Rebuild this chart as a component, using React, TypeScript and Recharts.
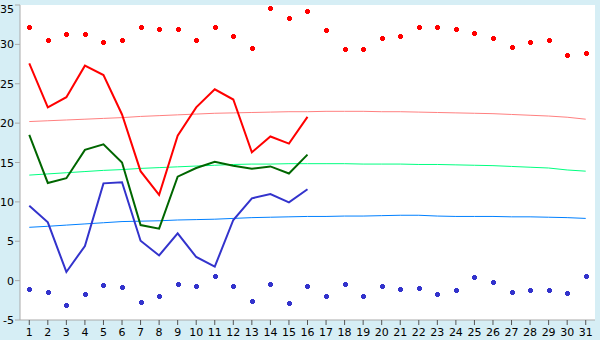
import React from "react";
import { ComposedChart, Line, XAxis, YAxis, CartesianGrid, Customized } from "recharts";

const days = ["1","2","3","4","5","6","7","8","9","10","11","12","13","14","15","16","17","18","19","20","21","22","23","24","25","26","27","28","29","30","31"];

const recordHigh = [32.2,30.6,31.3,31.3,30.3,30.5,32.2,31.9,31.9,30.6,32.2,31.1,29.6,34.6,33.3,34.3,31.8,29.4,29.4,30.8,31.1,32.2,32.2,32.0,31.4,30.8,29.7,30.3,30.5,28.6,28.9];
const highTemp = [27.6,22.0,23.3,27.3,26.1,21.1,13.9,10.9,18.4,22.0,24.3,23.0,16.3,18.3,17.4,20.8];
const normalHigh = [20.2,20.3,20.4,20.5,20.6,20.7,20.85,20.95,21.05,21.15,21.25,21.3,21.35,21.4,21.45,21.45,21.5,21.5,21.5,21.45,21.45,21.4,21.35,21.3,21.25,21.2,21.1,21.0,20.9,20.75,20.5];
const meanTemp = [18.5,12.4,13.0,16.6,17.3,15.0,7.06,6.6,13.2,14.3,15.1,14.6,14.2,14.5,13.6,16.0];
const normalMean = [13.4,13.55,13.7,13.85,14.0,14.1,14.25,14.35,14.45,14.55,14.65,14.75,14.8,14.8,14.85,14.85,14.85,14.85,14.8,14.8,14.8,14.75,14.75,14.7,14.65,14.6,14.5,14.4,14.3,14.05,13.9];
const lowTemp = [9.5,7.4,1.1,4.4,12.35,12.5,5.07,3.2,6.0,3.0,1.77,7.7,10.45,11.0,9.94,11.6];
const normalLow = [6.77,6.9,7.05,7.2,7.35,7.5,7.55,7.6,7.7,7.75,7.8,7.9,8.0,8.05,8.1,8.15,8.15,8.2,8.2,8.25,8.3,8.3,8.2,8.15,8.15,8.15,8.1,8.1,8.05,8.0,7.9];
const recordLow = [-1.1,-1.5,-3.1,-1.7,-0.6,-0.85,-2.75,-2.0,-0.47,-0.72,0.55,-0.72,-2.6,-0.47,-2.9,-0.72,-2.0,-0.47,-2.0,-0.72,-1.1,-0.98,-1.74,-1.23,0.42,-0.22,-1.49,-1.23,-1.23,-1.61,0.55];
const yTicks = [-5,0,5,10,15,20,25,30,35];

const data = days.map((d, i) => ({
  day: d,
  recordHigh: recordHigh[i],
  highTemp: highTemp[i],
  normalHigh: normalHigh[i],
  meanTemp: meanTemp[i],
  normalMean: normalMean[i],
  lowTemp: lowTemp[i],
  normalLow: normalLow[i],
  recordLow: recordLow[i],
}));

const W = 600;
const H = 340;
const MARGIN = { top: 5, right: 5, bottom: 0, left: 0 };
const Y_AXIS_W = 20;
const X_AXIS_H = 20;
const BG = "#d6eef5";

const makeCross = (color: string) => (props: any) => {
  const { cx, cy, index } = props;
  if (cx == null || cy == null || isNaN(cy)) return <g key={index} />;
  const x = Math.round(cx) + 0.5;
  const y = Math.round(cy) + 0.5;
  const d = `M${x - 1.5},${y - 2.5} h3 v1 h1 v3 h-1 v1 h-3 v-1 h-1 v-3 h1 z`;
  return <path key={index} d={d} fill={color} stroke="none" />;
};

const FONT = "DejaVu Sans, Verdana, sans-serif";

const YTick = (props: any) => {
  const { x, y, payload } = props;
  const yy = Math.max(y, 9);
  return (
    <text x={x} y={yy} dy={4} textAnchor="end" fill="#000" fontSize={11} fontFamily={FONT}>
      {payload.value}
    </text>
  );
};

const XTick = (props: any) => {
  const { x, y, payload } = props;
  return (
    <text x={x} y={y} dy={9} textAnchor="middle" fill="#000" fontSize={11} fontFamily={FONT}>
      {payload.value}
    </text>
  );
};

const Background = () => (
  <g>
    <rect x={0} y={0} width={W} height={H} fill={BG} />
    <rect
      x={MARGIN.left + Y_AXIS_W}
      y={MARGIN.top}
      width={W - MARGIN.left - MARGIN.right - Y_AXIS_W}
      height={H - MARGIN.top - MARGIN.bottom - X_AXIS_H}
      fill="#ffffff"
    />
  </g>
);

export default function App() {
  return (
    <div style={{ position: "fixed", left: 0, top: 0, width: W, height: H, backgroundColor: BG }}>
      <ComposedChart width={W} height={H} data={data} margin={MARGIN}>
        <Customized component={Background} />
        <CartesianGrid yAxisId="l" vertical={false} stroke="#aaaaaa" />
        <XAxis dataKey="day" scale="band" height={X_AXIS_H} tickSize={5} tickMargin={2} interval={0}
          axisLine={{ stroke: "#aaaaaa" }} tickLine={{ stroke: "#555" }} tick={<XTick />} />
        <YAxis yAxisId="l" width={Y_AXIS_W} domain={[-5, 35]} ticks={yTicks} interval={0} tickSize={5} tickMargin={1}
          axisLine={{ stroke: "#aaaaaa" }} tickLine={{ stroke: "#aaaaaa" }} tick={<YTick />} />
        <YAxis yAxisId="r" orientation="right" width={0} domain={[-5, 35]} tick={false} tickLine={false}
          axisLine={{ stroke: "#aaaaaa" }} />
        <Line yAxisId="l" dataKey="normalHigh" stroke="#ff8080" strokeWidth={1} dot={false} activeDot={false} isAnimationActive={false} type="linear" />
        <Line yAxisId="l" dataKey="normalMean" stroke="#00ff80" strokeWidth={1} dot={false} activeDot={false} isAnimationActive={false} type="linear" />
        <Line yAxisId="l" dataKey="normalLow" stroke="#0080ff" strokeWidth={1} dot={false} activeDot={false} isAnimationActive={false} type="linear" />
        <Line yAxisId="l" dataKey="highTemp" stroke="#ff0000" strokeWidth={2} dot={false} activeDot={false} isAnimationActive={false} type="linear" />
        <Line yAxisId="l" dataKey="meanTemp" stroke="#006600" strokeWidth={2} dot={false} activeDot={false} isAnimationActive={false} type="linear" />
        <Line yAxisId="l" dataKey="lowTemp" stroke="#3333cc" strokeWidth={2} dot={false} activeDot={false} isAnimationActive={false} type="linear" />
        <Line yAxisId="l" dataKey="recordHigh" stroke="none" dot={makeCross("#ff0000")} activeDot={false} isAnimationActive={false} />
        <Line yAxisId="l" dataKey="recordLow" stroke="none" dot={makeCross("#3333cc")} activeDot={false} isAnimationActive={false} />
      </ComposedChart>
    </div>
  );
}
